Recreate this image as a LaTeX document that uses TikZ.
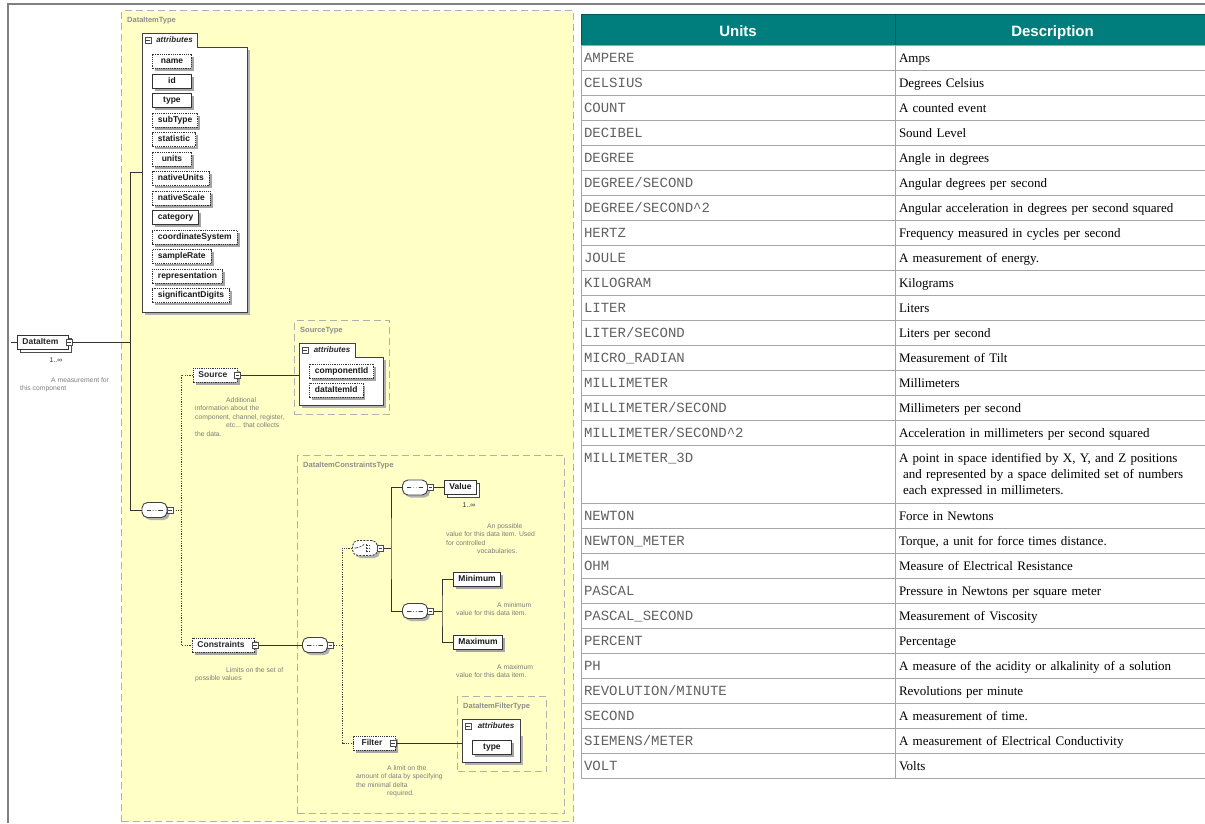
\documentclass[tikz,border=0pt]{standalone}
\usepackage{fontspec}
\setmainfont{Liberation Serif}
\setsansfont{Liberation Sans}
\setmonofont{Liberation Mono}
\usetikzlibrary{positioning, shadows}

\definecolor{typeyellow}{RGB}{255,255,198}
\definecolor{typegray}{RGB}{176,176,176}
\definecolor{headteal}{RGB}{0,126,126}
\definecolor{rowgray}{RGB}{165,165,165}
\definecolor{notegray}{RGB}{125,125,125}

\tikzstyle{typebox} = [rectangle, draw=typegray, fill=typeyellow, line width=1.1pt, dash pattern=on 7pt off 4pt, anchor=north west, inner sep=0pt]
\tikzstyle{typelabel} = [anchor=west, inner sep=0pt, text=black!45, font=\sffamily\bfseries\fontsize{7.5}{9}\selectfont]
\tikzstyle{attrbody} = [rectangle, draw=black!75, fill=white, line width=1pt, anchor=north west, inner sep=0pt, drop shadow={shadow xshift=2.5pt, shadow yshift=-2.5pt, fill=black!30, opacity=1}]
\tikzstyle{attrtab} = [rectangle, draw=black!75, fill=white, line width=1pt, anchor=south west, minimum height=13pt, inner xsep=3pt, inner ysep=0pt, text=black!85, font=\sffamily\bfseries\itshape\fontsize{8}{9}\selectfont, execute at begin node={\hspace{9pt}}]
\tikzstyle{attribute} = [rectangle, draw=black!80, fill=white, line width=0.9pt, anchor=west, minimum width=39pt, minimum height=14pt, inner xsep=5.5pt, inner ysep=0pt, text height=6.5pt, text depth=1.8pt, text=black!90, font=\sffamily\bfseries\fontsize{8.5}{10}\selectfont, drop shadow={shadow xshift=2.5pt, shadow yshift=-2.5pt, fill=black!35, opacity=1}]
\tikzstyle{optattr} = [attribute, dash pattern=on 1.2pt off 1pt]
\tikzstyle{element} = [attribute, minimum width=0pt, inner xsep=5pt, text=black!85, execute at end node={\hspace{5pt}}]
\tikzstyle{optelement} = [element, dash pattern=on 1.2pt off 1pt]
\tikzstyle{multi} = [copy shadow={shadow xshift=3pt, shadow yshift=-3pt, draw=black!70, fill=white, opacity=1}]
\tikzstyle{expander} = [rectangle, draw=black!70, fill=white, line width=0.6pt, minimum size=6pt, inner sep=0pt, path picture={\draw [black!75, line width=0.6pt] ([xshift=1.3pt]path picture bounding box.west) -- ([xshift=-1.3pt]path picture bounding box.east);}]
\tikzstyle{sequence} = [rectangle, rounded corners=5.5pt, draw=black!75, fill=white, line width=0.9pt, minimum width=25pt, minimum height=15pt, inner sep=0pt, drop shadow={shadow xshift=2.5pt, shadow yshift=-2.5pt, fill=black!30, opacity=1}, path picture={
    \coordinate (pp) at (path picture bounding box.center);
    \draw [line width=0.7pt] ([xshift=-8pt]pp) -- ([xshift=8pt]pp);
    \fill ([xshift=-2.6pt]pp) circle (1.3pt);
    \fill (pp) circle (1.3pt);
    \fill ([xshift=2.6pt]pp) circle (1.3pt);}]
\tikzstyle{choice} = [sequence, dash pattern=on 2pt off 1.3pt, path picture={
    \coordinate (pp) at (path picture bounding box.center);
    \draw [line width=0.7pt] ([xshift=-9pt]pp) -- ([xshift=-5pt]pp) -- ([shift={(-1pt,3.5pt)}]pp);
    \draw [line width=0.9pt] ([shift={(1pt,-4pt)}]pp) -- ([shift={(1pt,4pt)}]pp);
    \draw [line width=0.6pt] ([shift={(1pt,3pt)}]pp) -- ([shift={(5pt,3pt)}]pp) ([shift={(1pt,0pt)}]pp) -- ([shift={(5pt,0pt)}]pp) ([shift={(1pt,-3pt)}]pp) -- ([shift={(5pt,-3pt)}]pp);}]
\tikzstyle{connector} = [draw=black!80, line width=0.8pt]
\tikzstyle{optconnector} = [draw=black!75, line width=0.9pt, dash pattern=on 1.2pt off 1.2pt]
\tikzstyle{note} = [anchor=north west, inner sep=0pt, align=left, text=notegray, font=\sffamily\fontsize{6.8}{8.6}\selectfont]
\tikzstyle{occurs} = [inner sep=0pt, text=black!80, font=\sffamily\fontsize{7}{8}\selectfont]
\tikzstyle{headcell} = [rectangle, draw=headteal!70!black, fill=headteal, minimum height=31pt, inner sep=0pt, outer sep=0pt, text height=14pt, text depth=1pt, text=white, font=\sffamily\bfseries\fontsize{15}{18}\selectfont]
\tikzstyle{unitcell} = [rectangle, draw=rowgray, line width=1pt, minimum height=25pt, text width=308pt, inner xsep=3pt, inner ysep=0pt, outer sep=0pt, align=left, text height=11.5pt, text depth=1.5pt, text=black!62, font=\ttfamily\fontsize{14}{16}\selectfont]
\tikzstyle{desccell} = [unitcell, text width=307pt, inner xsep=4pt, text=black, font=\rmfamily\fontsize{13}{16}\selectfont]

\begin{document}
\begin{tikzpicture}[x=1pt, y=-1pt]
    \useasboundingbox (0,0) rectangle (1205,823);

        % Page frame
        \draw [black!50, line width=1.6pt] (8,823) -- (8,4) -- (1205,4);

        % Type containers
        \node (dataItemType) [typebox, minimum width=452pt, minimum height=811pt] at (121,10) {};
        \node (sourceType) [typebox, minimum width=95pt, minimum height=94pt] at (294,320) {};
        \node (constraintsType) [typebox, minimum width=267pt, minimum height=358pt] at (297,455) {};
        \node (filterType) [typebox, minimum width=89pt, minimum height=75pt] at (457,696) {};
        \node (dataItemTypeLbl) [typelabel] at ([shift={(6pt,-11pt)}]dataItemType.north west) {DataItemType};
        \node (sourceTypeLbl) [typelabel] at ([shift={(6pt,-11pt)}]sourceType.north west) {SourceType};
        \node (constraintsTypeLbl) [typelabel] at ([shift={(6pt,-11pt)}]constraintsType.north west) {DataItemConstraintsType};
        \node (filterTypeLbl) [typelabel] at ([shift={(6pt,-11pt)}]filterType.north west) {DataItemFilterType};

        % Attribute groups
        \node (dataItemAttr) [attrbody, minimum width=105pt, minimum height=265pt] at (142,47) {};
        \node (dataItemTab) [attrtab, minimum width=55pt] at (dataItemAttr.north west) {attributes};
        \draw [white, line width=1.4pt] ([xshift=0.7pt]dataItemTab.south west) -- ([xshift=-0.7pt]dataItemTab.south east);
        \node (dataItemTabExp) [expander] at ([xshift=6pt]dataItemTab.west) {};

        \node (sourceAttr) [attrbody, minimum width=84pt, minimum height=48pt] at (299,357) {};
        \node (sourceTab) [attrtab, minimum width=56pt] at (sourceAttr.north west) {attributes};
        \draw [white, line width=1.4pt] ([xshift=0.7pt]sourceTab.south west) -- ([xshift=-0.7pt]sourceTab.south east);
        \node (sourceTabExp) [expander] at ([xshift=6pt]sourceTab.west) {};

        \node (filterAttr) [attrbody, minimum width=58pt, minimum height=29pt] at (462,733) {};
        \node (filterTab) [attrtab, minimum width=58pt] at (filterAttr.north west) {attributes};
        \draw [white, line width=1.4pt] ([xshift=0.7pt]filterTab.south west) -- ([xshift=-0.7pt]filterTab.south east);
        \node (filterTabExp) [expander] at ([xshift=6pt]filterTab.west) {};

        % Nodes for the attributes of DataItemType
        \node (attrName) [optattr] at (152,61) {name};
        \node (attrId) [attribute] at (152,81) {id};
        \node (attrType) [attribute] at (152,100.5) {type};
        \node (attrSubType) [optattr] at (152,120) {subType};
        \node (attrStatistic) [optattr] at (152,139.5) {statistic};
        \node (attrUnits) [optattr] at (152,159) {units};
        \node (attrNativeUnits) [optattr] at (152,178.5) {nativeUnits};
        \node (attrNativeScale) [optattr] at (152,198) {nativeScale};
        \node (attrCategory) [attribute] at (152,217.5) {category};
        \node (attrCoordSystem) [optattr] at (152,237) {coordinateSystem};
        \node (attrSampleRate) [optattr] at (152,256.5) {sampleRate};
        \node (attrRepresentation) [optattr] at (152,276) {representation};
        \node (attrSigDigits) [optattr] at (152,295.5) {significantDigits};

        % Nodes for the other attributes
        \node (attrComponentId) [optattr] at (309,371) {componentId};
        \node (attrDataItemId) [optattr] at (309,390) {dataItemId};
        \node (attrFilterType) [attribute] at (472,747) {type};

        % Nodes for elements
        \node (dataItem) [element, multi] at (17,342) {DataItem};
        \node (source) [optelement] at (193,375) {Source};
        \node (constraints) [optelement] at (192,645) {Constraints};
        \node (filter) [optelement, minimum width=42pt] at (353,743) {Filter};
        \node (value) [attribute, multi, minimum width=0pt, inner xsep=5pt] at (444,487.5) {Value};
        \node (minimum) [attribute, minimum width=0pt, inner xsep=5pt] at (453,579) {Minimum};
        \node (maximum) [attribute, minimum width=0pt, inner xsep=5pt] at (453,642) {Maximum};

        % Nodes for compositors
        \node (seqItem) [sequence] at (154.5,510) {};
        \node (seqConstraints) [sequence] at (315,645) {};
        \node (choiceConstraints) [choice] at (365,548) {};
        \node (seqValue) [sequence] at (415,487.5) {};
        \node (seqRange) [sequence] at (415,611) {};

        % Expanders
        \node (dataItemExp) [expander] at (dataItem.east) {};
        \node (sourceExp) [expander] at (source.east) {};
        \node (constraintsExp) [expander] at (constraints.east) {};
        \node (filterExp) [expander, xshift=-3pt] at (filter.east) {};
        \node (seqItemExp) [expander, xshift=2.5pt] at (seqItem.east) {};
        \node (seqConstraintsExp) [expander, xshift=2.5pt] at (seqConstraints.east) {};
        \node (choiceExp) [expander, xshift=2.5pt] at (choiceConstraints.east) {};
        \node (seqValueExp) [expander, xshift=2.5pt] at (seqValue.east) {};
        \node (seqRangeExp) [expander, xshift=2.5pt] at (seqRange.east) {};

        % Occurrences and annotations
        \node (dataItemOcc) [occurs] at (56,360) {1..∞};
        \node (valueOcc) [occurs] at (469,505.5) {1..∞};
        \node (dataItemNote) [note] at (20,377) {\hspace*{31pt}A measurement for\\this component};
        \node (sourceNote) [note] at (195,397) {\hspace*{31pt}Additional\\information about the\\component, channel, register,\\\hspace*{31pt}etc... that collects\\the data.};
        \node (valueNote) [note] at (446,523) {\hspace*{41pt}An possible\\value for this data item. Used\\for controlled\\\hspace*{31pt}vocabularies.};
        \node (minimumNote) [note] at (456,602) {\hspace*{41pt}A minimum\\value for this data item.};
        \node (maximumNote) [note] at (456,664) {\hspace*{41pt}A maximum\\value for this data item.};
        \node (constraintsNote) [note] at (195,667) {\hspace*{31pt}Limits on the set of\\possible values};
        \node (filterNote) [note] at (356,765) {\hspace*{31pt}A limit on the\\amount of data by specifying\\the minimal delta\\\hspace*{31pt}required.};

        % Junction points
        \coordinate (dataItemIn) at (11,342);
        \coordinate (trunkTop) at (130,172);
        \coordinate (optFork) at (181,510);
        \coordinate (optFork2) at (342,645);
        \coordinate (choiceFork) at (391,548);
        \coordinate (rangeFork) at (442,611);

        % Solid connectors
        \draw [connector] (dataItemIn) -- (dataItem.west);
        \draw [connector] (dataItemExp.east) -- (dataItemExp.east -| trunkTop);
        \draw [connector] (trunkTop -| dataItemAttr.west) -- (trunkTop) |- (seqItem.west);
        \draw [connector] (sourceExp.east) -- (sourceExp.east -| sourceAttr.west);
        \draw [connector] (constraintsExp.east) -- (seqConstraints.west);
        \draw [connector] (choiceExp.east) -- (choiceFork);
        \draw [connector] (seqValue.west) -| (choiceFork) |- (seqRange.west);
        \draw [connector] (seqValueExp.east) -- (value.west);
        \draw [connector] (seqRangeExp.east) -- (rangeFork);
        \draw [connector] (minimum.west) -| (rangeFork) |- (maximum.west);
        \draw [connector] (filterExp.east) -- (filterExp.east -| filterAttr.west);

        % Dotted connectors for optional content
        \draw [optconnector] (seqItemExp.east) -- (optFork);
        \draw [optconnector] (source.west) -| (optFork) |- (constraints.west);
        \draw [optconnector] (seqConstraintsExp.east) -- (optFork2);
        \draw [optconnector] (choiceConstraints.west) -| (optFork2) |- (filter.west);

        % Units table header
        \node (hUnits) [headcell, anchor=north west, minimum width=314pt] at (581,14) {Units};
        \node (hDesc) [headcell, minimum width=315pt, right=0pt of hUnits] {Description};

        % Units table rows
        \node (uAmpere) [unitcell, below=0pt of hUnits] {AMPERE};
        \node (dAmpere) [desccell, right=0pt of uAmpere] {Amps};
        \node (uCelsius) [unitcell, below=0pt of uAmpere] {CELSIUS};
        \node (dCelsius) [desccell, right=0pt of uCelsius] {Degrees Celsius};
        \node (uCount) [unitcell, below=0pt of uCelsius] {COUNT};
        \node (dCount) [desccell, right=0pt of uCount] {A counted event};
        \node (uDecibel) [unitcell, below=0pt of uCount] {DECIBEL};
        \node (dDecibel) [desccell, right=0pt of uDecibel] {Sound Level};
        \node (uDegree) [unitcell, below=0pt of uDecibel] {DEGREE};
        \node (dDegree) [desccell, right=0pt of uDegree] {Angle in degrees};
        \node (uDegSec) [unitcell, below=0pt of uDegree] {DEGREE/SECOND};
        \node (dDegSec) [desccell, right=0pt of uDegSec] {Angular degrees per second};
        \node (uDegSecSq) [unitcell, below=0pt of uDegSec] {DEGREE/SECOND\textasciicircum 2};
        \node (dDegSecSq) [desccell, right=0pt of uDegSecSq] {Angular acceleration in degrees per second squared};
        \node (uHertz) [unitcell, below=0pt of uDegSecSq] {HERTZ};
        \node (dHertz) [desccell, right=0pt of uHertz] {Frequency measured in cycles per second};
        \node (uJoule) [unitcell, below=0pt of uHertz] {JOULE};
        \node (dJoule) [desccell, right=0pt of uJoule] {A measurement of energy.};
        \node (uKilogram) [unitcell, below=0pt of uJoule] {KILOGRAM};
        \node (dKilogram) [desccell, right=0pt of uKilogram] {Kilograms};
        \node (uLiter) [unitcell, below=0pt of uKilogram] {LITER};
        \node (dLiter) [desccell, right=0pt of uLiter] {Liters};
        \node (uLiterSec) [unitcell, below=0pt of uLiter] {LITER/SECOND};
        \node (dLiterSec) [desccell, right=0pt of uLiterSec] {Liters per second};
        \node (uMicroRad) [unitcell, below=0pt of uLiterSec] {MICRO\_RADIAN};
        \node (dMicroRad) [desccell, right=0pt of uMicroRad] {Measurement of Tilt};
        \node (uMm) [unitcell, below=0pt of uMicroRad] {MILLIMETER};
        \node (dMm) [desccell, right=0pt of uMm] {Millimeters};
        \node (uMmSec) [unitcell, below=0pt of uMm] {MILLIMETER/SECOND};
        \node (dMmSec) [desccell, right=0pt of uMmSec] {Millimeters per second};
        \node (uMmSecSq) [unitcell, below=0pt of uMmSec] {MILLIMETER/SECOND\textasciicircum 2};
        \node (dMmSecSq) [desccell, right=0pt of uMmSecSq] {Acceleration in millimeters per second squared};
        \node (uMm3d) [unitcell, minimum height=58pt, text depth=35pt, below=0pt of uMmSecSq] {MILLIMETER\_3D};
        \node (dMm3d) [desccell, minimum height=58pt, text depth=35pt, right=0pt of uMm3d] {A point in space identified by X, Y, and Z positions\\\hspace*{4pt}and represented by a space delimited set of numbers\\\hspace*{4pt}each expressed in millimeters.};
        \node (uNewton) [unitcell, below=0pt of uMm3d] {NEWTON};
        \node (dNewton) [desccell, right=0pt of uNewton] {Force in Newtons};
        \node (uNewtonMeter) [unitcell, below=0pt of uNewton] {NEWTON\_METER};
        \node (dNewtonMeter) [desccell, right=0pt of uNewtonMeter] {Torque, a unit for force times distance.};
        \node (uOhm) [unitcell, below=0pt of uNewtonMeter] {OHM};
        \node (dOhm) [desccell, right=0pt of uOhm] {Measure of Electrical Resistance};
        \node (uPascal) [unitcell, below=0pt of uOhm] {PASCAL};
        \node (dPascal) [desccell, right=0pt of uPascal] {Pressure in Newtons per square meter};
        \node (uPascalSec) [unitcell, below=0pt of uPascal] {PASCAL\_SECOND};
        \node (dPascalSec) [desccell, right=0pt of uPascalSec] {Measurement of Viscosity};
        \node (uPercent) [unitcell, below=0pt of uPascalSec] {PERCENT};
        \node (dPercent) [desccell, right=0pt of uPercent] {Percentage};
        \node (uPh) [unitcell, below=0pt of uPercent] {PH};
        \node (dPh) [desccell, right=0pt of uPh] {A measure of the acidity or alkalinity of a solution};
        \node (uRevMin) [unitcell, below=0pt of uPh] {REVOLUTION/MINUTE};
        \node (dRevMin) [desccell, right=0pt of uRevMin] {Revolutions per minute};
        \node (uSecond) [unitcell, below=0pt of uRevMin] {SECOND};
        \node (dSecond) [desccell, right=0pt of uSecond] {A measurement of time.};
        \node (uSiemens) [unitcell, below=0pt of uSecond] {SIEMENS/METER};
        \node (dSiemens) [desccell, right=0pt of uSiemens] {A measurement of Electrical Conductivity};
        \node (uVolt) [unitcell, below=0pt of uSiemens] {VOLT};
        \node (dVolt) [desccell, right=0pt of uVolt] {Volts};

\end{tikzpicture}
\end{document}
